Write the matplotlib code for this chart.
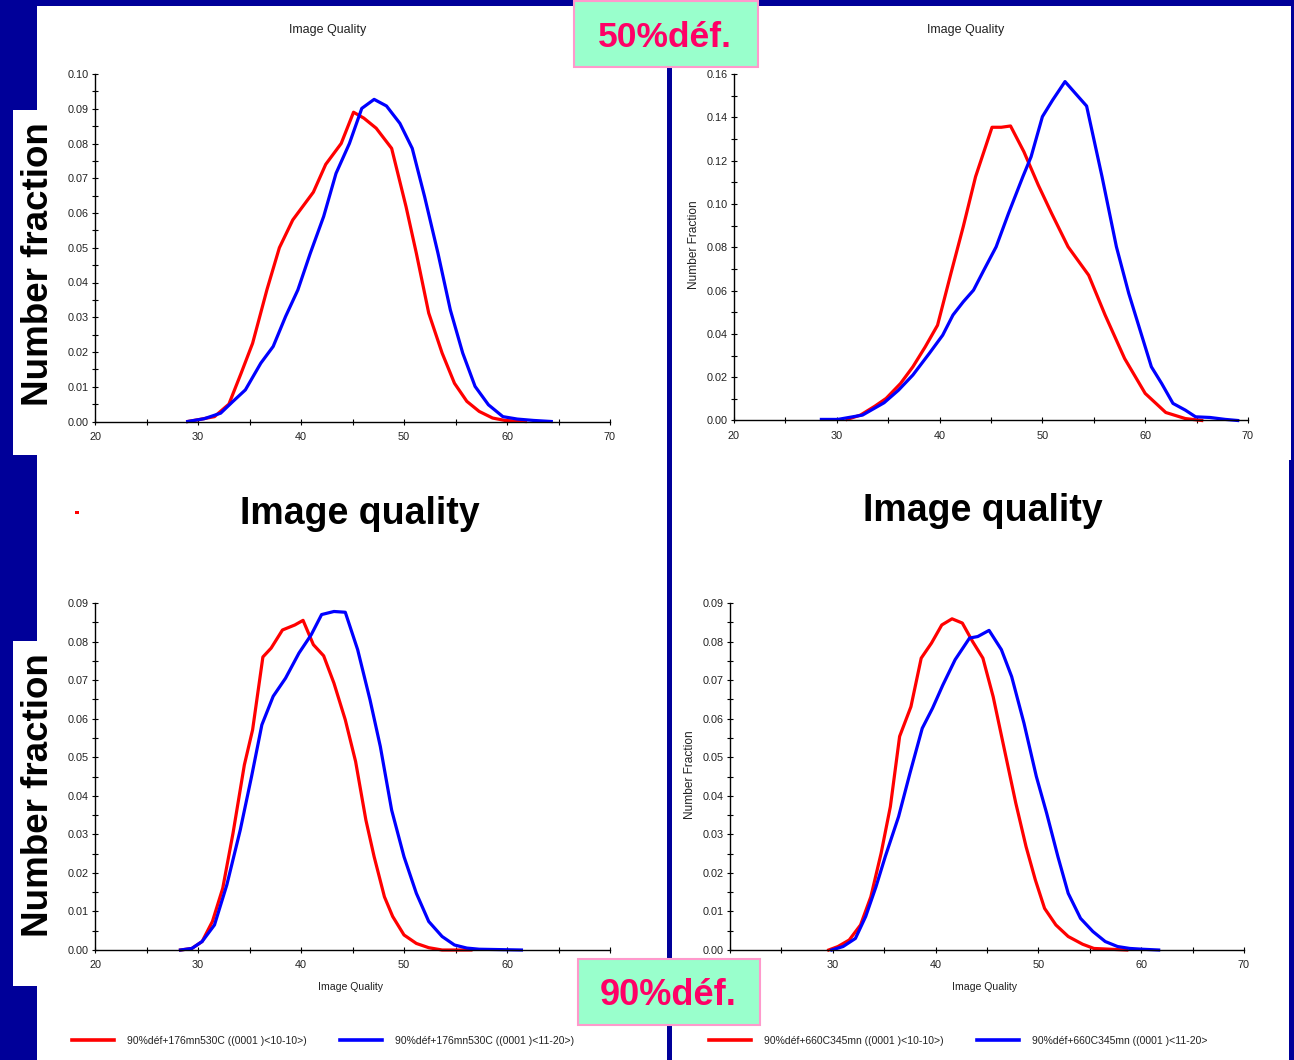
import matplotlib
matplotlib.use("Agg")
import matplotlib.pyplot as plt
from matplotlib.patches import Rectangle
from matplotlib.ticker import MultipleLocator, FormatStrFormatter

# ---------------- data ----------------
x_ticks = [20, 30, 40, 50, 60, 70]

tl_red_x = [29.0, 30.0, 31.6, 33.0, 34.2, 35.3, 36.7, 37.9, 39.2, 40.2, 41.2, 42.4, 43.9, 45.1, 46.1, 47.3,
            48.8, 50.2, 51.2, 52.4, 53.7, 54.9, 56.1, 57.3, 58.6, 59.8, 61.8]
tl_red_y = [0.0, 0.0005, 0.0014, 0.005, 0.014, 0.0225, 0.038, 0.050, 0.058, 0.062, 0.066, 0.074, 0.080, 0.089,
            0.0873, 0.0844, 0.0786, 0.0618, 0.0484, 0.0312, 0.0197, 0.011, 0.0058, 0.0029, 0.001, 0.0003, 0.0]
tl_blue_x = [29.0, 30.6, 32.2, 33.4, 34.6, 36.1, 37.3, 38.5, 39.7, 40.9, 42.2, 43.4, 44.7, 45.9, 47.1, 48.3,
             49.6, 50.8, 52.0, 53.3, 54.5, 55.7, 56.9, 58.2, 59.6, 61.0, 62.6, 64.3]
tl_blue_y = [0.0, 0.0008, 0.0024, 0.0058, 0.0091, 0.0168, 0.0216, 0.0302, 0.0379, 0.0484, 0.059, 0.0714, 0.080,
             0.0901, 0.0927, 0.0908, 0.0858, 0.0786, 0.0647, 0.0484, 0.0321, 0.0197, 0.0101, 0.0048, 0.0014,
             0.0007, 0.0003, 0.0]

tr_red_x = [31.0, 32.3, 33.7, 34.8, 36.2, 37.4, 38.6, 39.8, 41.1, 42.3, 43.5, 45.1, 46.0, 46.9, 48.2, 49.6,
            50.9, 52.5, 54.5, 56.1, 58.0, 60.0, 62.0, 63.9, 65.5]
tr_red_y = [0.0005, 0.0025, 0.0066, 0.0102, 0.0171, 0.0248, 0.034, 0.044, 0.0679, 0.0895, 0.1126, 0.1354,
            0.1354, 0.136, 0.1241, 0.1087, 0.0956, 0.0802, 0.0671, 0.0487, 0.0286, 0.0125, 0.0037, 0.0009, 0.0]
tr_blue_x = [28.5, 30.1, 32.5, 34.6, 36.0, 37.4, 39.0, 40.3, 41.3, 42.3, 43.3, 44.3, 45.5, 46.7, 48.1, 48.9,
             50.0, 51.0, 52.2, 53.2, 54.3, 55.8, 57.2, 58.4, 59.6, 60.6, 61.6, 62.7, 63.9, 64.9, 66.3, 67.8, 69.0]
tr_blue_y = [0.0005, 0.0005, 0.0025, 0.0082, 0.014, 0.021, 0.031, 0.0394, 0.0487, 0.0548, 0.0602, 0.0694,
             0.0802, 0.0956, 0.1126, 0.1218, 0.1403, 0.148, 0.1565, 0.1511, 0.1452, 0.1126, 0.0802, 0.0587,
             0.0402, 0.0248, 0.0171, 0.0079, 0.0048, 0.0017, 0.0014, 0.0005, 0.0]

bl_red_x = [28.3, 29.4, 30.4, 31.4, 32.4, 33.4, 34.5, 35.3, 36.3, 37.1, 38.2, 39.4, 40.2, 41.2, 42.2, 43.2,
            44.3, 45.3, 46.3, 47.1, 48.1, 48.9, 50.0, 51.2, 52.4, 53.7, 56.5]
bl_red_y = [0.0, 0.0004, 0.0022, 0.0074, 0.016, 0.0303, 0.048, 0.0571, 0.076, 0.0783, 0.0830, 0.0843, 0.0855,
            0.0792, 0.0763, 0.0692, 0.0597, 0.0489, 0.0337, 0.0242, 0.0138, 0.0087, 0.0039, 0.0017, 0.0006,
            0.0, 0.0]
bl_blue_x = [28.3, 29.4, 30.4, 31.6, 32.8, 34.1, 35.2, 36.2, 37.3, 38.5, 39.8, 41.0, 42.0, 43.2, 44.3, 45.5,
             46.7, 47.7, 48.8, 50.0, 51.2, 52.4, 53.7, 54.9, 56.1, 57.3, 61.4]
bl_blue_y = [0.0, 0.0004, 0.0022, 0.0065, 0.0169, 0.0311, 0.045, 0.0584, 0.0658, 0.0705, 0.077, 0.0818, 0.087,
             0.0878, 0.0876, 0.0779, 0.0649, 0.0528, 0.0363, 0.0242, 0.0147, 0.0074, 0.0035, 0.0013, 0.0005,
             0.0002, 0.0]

br_red_x = [29.6, 30.5, 31.6, 32.7, 33.7, 34.7, 35.6, 36.5, 37.6, 38.6, 39.6, 40.6, 41.6, 42.6, 43.6, 44.6,
            45.6, 46.7, 47.8, 48.8, 49.7, 50.6, 51.7, 52.9, 54.3, 55.4, 58.6]
br_red_y = [0.0, 0.0009, 0.0026, 0.0065, 0.0138, 0.0251, 0.0372, 0.0554, 0.0631, 0.0757, 0.0796, 0.0843,
            0.0859, 0.0848, 0.080, 0.0757, 0.0657, 0.0519, 0.0381, 0.0268, 0.0182, 0.0108, 0.0065, 0.0035,
            0.0015, 0.0004, 0.0]
br_blue_x = [29.9, 31.0, 32.2, 33.2, 34.2, 35.1, 36.4, 37.5, 38.7, 39.7, 40.7, 41.9, 43.3, 44.1, 45.2, 46.4,
             47.4, 48.6, 49.8, 50.8, 51.9, 52.9, 54.1, 55.3, 56.5, 57.7, 58.9, 60.1, 61.7]
br_blue_y = [0.0, 0.0009, 0.003, 0.0087, 0.0164, 0.0242, 0.0346, 0.0458, 0.0575, 0.0627, 0.0687, 0.0753,
             0.0809, 0.0813, 0.0829, 0.0779, 0.0709, 0.0588, 0.045, 0.0355, 0.0242, 0.0147, 0.0082, 0.0048,
             0.0022, 0.0009, 0.0004, 0.0002, 0.0]

bl_labels = ["90%déf+176mn530C ((0001 )<10-10>)", "90%déf+176mn530C ((0001 )<11-20>)"]
br_labels = ["90%déf+660C345mn ((0001 )<10-10>)", "90%déf+660C345mn ((0001 )<11-20>"]

# ---------------- layout ----------------
W, H = 1294, 1060
BG = "#000099"
RED = "#ff0000"
BLUE = "#0000ff"
SMALL = ["Liberation Sans", "DejaVu Sans"]
BOLD = ["Liberation Sans", "DejaVu Sans"]
GREY = "#222222"

fig = plt.figure(figsize=(W / 100, H / 100), dpi=100, facecolor=BG)


def fx(x):
    return x / W


def fy(y):
    return 1 - y / H


def rect(x0, y0, x1, y1, z=-5, **kw):
    r = Rectangle((fx(x0), fy(y1)), (x1 - x0) / W, (y1 - y0) / H,
                  transform=fig.transFigure, zorder=z, **kw)
    fig.add_artist(r)
    return r


# white slide areas
rect(37, 6, 667, 1060, facecolor="white", edgecolor="none")
rect(672, 6, 1291, 460, facecolor="white", edgecolor="none")
rect(672, 460, 1289, 1060, facecolor="white", edgecolor="none")
rect(12.5, 110, 37, 455, facecolor="white", edgecolor="none")
rect(12.5, 641, 37, 986, facecolor="white", edgecolor="none")
rect(75, 511, 79, 514, facecolor=RED, edgecolor="none", z=2)


def make_ax(left, right, top, bottom, ymax, ymajor, yminor):
    ax = fig.add_axes([fx(left), fy(bottom), (right - left) / W, (bottom - top) / H])
    ax.set_facecolor("none")
    ax.set_xlim(20, 70)
    ax.set_ylim(0, ymax)
    ax.set_xticks(x_ticks)
    ax.xaxis.set_minor_locator(MultipleLocator(5))
    ax.yaxis.set_major_locator(MultipleLocator(ymajor))
    ax.yaxis.set_minor_locator(MultipleLocator(yminor))
    ax.yaxis.set_major_formatter(FormatStrFormatter("%.2f"))
    for s in ("top", "right"):
        ax.spines[s].set_visible(False)
    for s in ("left", "bottom"):
        ax.spines[s].set_linewidth(1.0)
    ax.tick_params(which="both", direction="inout", length=5, width=0.8, colors="black",
                   labelsize=7.8, pad=2)
    ax.tick_params(axis="x", pad=5)
    for lab in ax.get_xticklabels() + ax.get_yticklabels():
        lab.set_family(SMALL)
        lab.set_color(GREY)
    return ax


ax_tl = make_ax(95, 610, 74, 421.5, 0.10, 0.01, 0.005)
ax_tr = make_ax(734, 1248, 74, 420.5, 0.16, 0.02, 0.01)
ax_bl = make_ax(95, 610, 603, 950, 0.09, 0.01, 0.005)
ax_br = make_ax(730, 1244, 603, 950, 0.09, 0.01, 0.005)

LW = 2.3
ax_tl.plot(tl_red_x, tl_red_y, color=RED, lw=LW, clip_on=False)
ax_tl.plot(tl_blue_x, tl_blue_y, color=BLUE, lw=LW, clip_on=False)
ax_tr.plot(tr_red_x, tr_red_y, color=RED, lw=LW, clip_on=False)
ax_tr.plot(tr_blue_x, tr_blue_y, color=BLUE, lw=LW, clip_on=False)
bl_r, = ax_bl.plot(bl_red_x, bl_red_y, color=RED, lw=LW, clip_on=False, label=bl_labels[0])
bl_b, = ax_bl.plot(bl_blue_x, bl_blue_y, color=BLUE, lw=LW, clip_on=False, label=bl_labels[1])
br_r, = ax_br.plot(br_red_x, br_red_y, color=RED, lw=LW, clip_on=False, label=br_labels[0])
br_b, = ax_br.plot(br_blue_x, br_blue_y, color=BLUE, lw=LW, clip_on=False, label=br_labels[1])

# small chart texts
fig.text(fx(328), fy(30), "Image Quality", ha="center", va="center", fontsize=9, family=SMALL, color=GREY)
fig.text(fx(966), fy(30), "Image Quality", ha="center", va="center", fontsize=9, family=SMALL, color=GREY)
fig.text(fx(694), fy(245), "Number Fraction", ha="center", va="center", rotation=90, fontsize=8.6,
         family=SMALL, color=GREY)
fig.text(fx(690), fy(775), "Number Fraction", ha="center", va="center", rotation=90, fontsize=8.6,
         family=SMALL, color=GREY)
fig.text(fx(350), fy(987), "Image Quality", ha="center", va="center", fontsize=7.6, family=SMALL, color=GREY)
fig.text(fx(985), fy(987), "Image Quality", ha="center", va="center", fontsize=7.6, family=SMALL, color=GREY)


def legend_entry(ax, handle, x, y, keep=True):
    lg = ax.legend(handles=[handle], loc="center left", bbox_to_anchor=(fx(x), fy(y)),
                   bbox_transform=fig.transFigure, frameon=False, borderpad=0, borderaxespad=0,
                   handlelength=4.0, handletextpad=1.25,
                   prop={"family": SMALL, "size": 7.5})
    for line in lg.get_lines():
        line.set_linewidth(2.6)
    for t in lg.get_texts():
        t.set_color(GREY)
    if keep:
        ax.add_artist(lg)
    return lg


legend_entry(ax_bl, bl_r, 72, 1041, keep=True)
legend_entry(ax_bl, bl_b, 340, 1041, keep=False)
legend_entry(ax_br, br_r, 709, 1041, keep=True)
legend_entry(ax_br, br_b, 977, 1041, keep=False)

# big slide labels
fig.text(fx(360), fy(524), "Image quality", ha="center", va="baseline", fontsize=27,
         fontweight="bold", family=BOLD)
fig.text(fx(983), fy(521), "Image quality", ha="center", va="baseline", fontsize=27,
         fontweight="bold", family=BOLD)
fig.text(fx(39), fy(264), "Number fraction", ha="center", va="center", rotation=90, fontsize=26.5,
         fontweight="bold", family=BOLD)
fig.text(fx(39), fy(795), "Number fraction", ha="center", va="center", rotation=90, fontsize=26.5,
         fontweight="bold", family=BOLD)

# deformation boxes
rect(574, 1, 758, 67, z=5, facecolor="#99ffcc", edgecolor="#ff99cc", linewidth=1.5)
rect(578, 959, 760, 1025, z=5, facecolor="#99ffcc", edgecolor="#ff99cc", linewidth=1.5)
fig.text(fx(665), fy(47), "50%déf.", ha="center", va="baseline", fontsize=25.5, fontweight="bold",
         family=BOLD, color="#ff0066", zorder=6)
fig.text(fx(668), fy(1005), "90%déf.", ha="center", va="baseline", fontsize=26, fontweight="bold",
         family=BOLD, color="#ff0066", zorder=6)

fig.savefig("out.png", dpi=100, facecolor=BG)
